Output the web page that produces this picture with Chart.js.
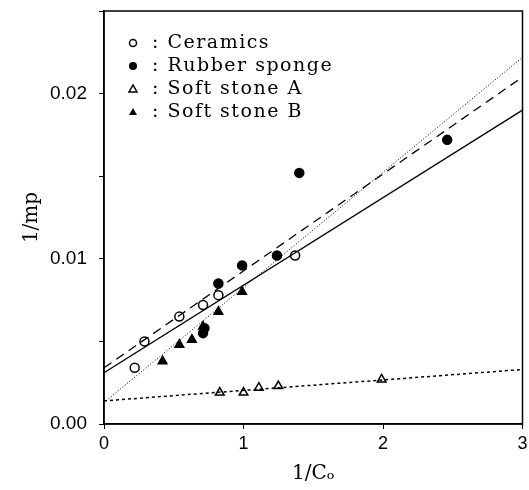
<!DOCTYPE html>
<html>
<head>
<meta charset="utf-8">
<script src="https://cdn.jsdelivr.net/npm/chart.js"></script>
<style>
  html, body { margin: 0; padding: 0; background: #fff; }
  #wrap { width: 529px; height: 490px; }
</style>
</head>
<body>
<div id="wrap"><canvas id="plot"></canvas></div>
<script>
    // measured points (1/Co, 1/mp)
    const ceramicsX = [0.22, 0.29, 0.54, 0.71, 0.82, 1.37];
    const ceramicsY = [0.0034, 0.0050, 0.0065, 0.0072, 0.0078, 0.0102];
    const rubberX = [0.71, 0.72, 0.82, 0.99, 1.24, 1.40, 2.46];
    const rubberY = [0.0055, 0.0058, 0.0085, 0.0096, 0.0102, 0.0152, 0.0172];
    const stoneAX = [0.83, 1.00, 1.11, 1.25, 1.99];
    const stoneAY = [0.0019, 0.0019, 0.0022, 0.0023, 0.0027];
    const stoneBX = [0.42, 0.54, 0.63, 0.71, 0.82, 0.99];
    const stoneBY = [0.0038, 0.0048, 0.0051, 0.0059, 0.0068, 0.0080];

    // fitted lines, end points
    const fitX = [0, 3];
    const ceramicsFit = [0.0031, 0.0190];
    const rubberFit = [0.0034, 0.0210];
    const stoneAFit = [0.0014, 0.0033];
    const stoneBFit = [0.0013, 0.0222];

    const xTicks = [0, 1, 2, 3];
    const yTickLabels = ['0.00', '0.01', '0.02'];

    const legendItems = [
        { text: ': Ceramics', style: 'circle', fill: false },
        { text: ': Rubber sponge', style: 'circle', fill: true },
        { text: ': Soft stone A', style: 'triangle', fill: false },
        { text: ': Soft stone B', style: 'triangle', fill: true }
    ];

    function pts(xs, ys) {
        return xs.map((x, i) => ({ x: x, y: ys[i] }));
    }

    function pointSet(label, xs, ys, style, filled) {
        return {
            type: 'scatter', label: label, data: pts(xs, ys),
            pointStyle: style, pointRadius: style === 'triangle' ? 5 : 4.5,
            borderColor: '#000', borderWidth: 1.5,
            backgroundColor: filled ? '#000' : '#fff'
        };
    }

    function fitSet(ys, dash, width) {
        return {
            type: 'line', data: pts(fitX, ys), showLine: true,
            borderColor: '#000', borderWidth: width, borderDash: dash,
            pointRadius: 0, fill: false
        };
    }

    const frame = {
        id: 'frame',
        afterDatasetsDraw(chart) {
            const a = chart.chartArea, c = chart.ctx;
            c.save();
            c.strokeStyle = '#000';
            c.lineWidth = 1.5;
            c.strokeRect(a.left, a.top, a.right - a.left, a.bottom - a.top);
            // legend inside the plot
            c.font = '19px "DejaVu Serif"';
            c.letterSpacing = '1.5px';
            c.textBaseline = 'middle';
            c.fillStyle = '#000';
            legendItems.forEach((item, i) => {
                const y = a.top + 32 + i * 23;
                const x = a.left + 29;
                c.beginPath();
                c.lineWidth = 1.5;
                if (item.style === 'circle') {
                    c.arc(x, y, item.fill ? 4 : 3.5, 0, Math.PI * 2);
                } else {
                    c.moveTo(x, y - 4);
                    c.lineTo(x + 4, y + 3);
                    c.lineTo(x - 4, y + 3);
                    c.closePath();
                }
                if (item.fill) c.fill(); else c.stroke();
                c.fillText(item.text, a.left + 48, y);
            });
            c.restore();
        }
    };

    new Chart(document.getElementById('plot'), {
        type: 'scatter',
        data: {
            datasets: [
                fitSet(ceramicsFit, [], 1.3),
                fitSet(rubberFit, [9, 6], 1.3),
                fitSet(stoneBFit, [1, 2], 1),
                fitSet(stoneAFit, [3, 3], 1.5),
                pointSet('Ceramics', ceramicsX, ceramicsY, 'circle', false),
                pointSet('Rubber sponge', rubberX, rubberY, 'circle', true),
                pointSet('Soft stone A', stoneAX, stoneAY, 'triangle', false),
                pointSet('Soft stone B', stoneBX, stoneBY, 'triangle', true)
            ]
        },
        options: {
            responsive: true,
            maintainAspectRatio: false,
            animation: false,
            layout: { padding: { top: 11, right: 6, left: 16, bottom: 0 } },
            plugins: { legend: { display: false }, tooltip: { enabled: false } },
            scales: {
                x: {
                    type: 'linear', min: 0, max: 3,
                    afterBuildTicks: s => { s.ticks = xTicks.map(v => ({ value: v })); },
                    ticks: { color: '#000', font: { family: 'Liberation Sans', size: 18 }, padding: 4 },
                    grid: { drawOnChartArea: false, color: '#000', tickLength: 5 },
                    border: { color: '#000', width: 1.5 },
                    title: { display: true, text: '1/Cₒ', color: '#000',
                             font: { family: 'DejaVu Serif', size: 20 }, padding: { top: 2 } },
                    afterFit: s => { s.height = 66; s.paddingLeft = 0; s.paddingRight = 0; }
                },
                y: {
                    type: 'linear', min: 0, max: 0.025,
                    ticks: {
                        stepSize: 0.005, color: '#000', padding: 12,
                        font: { family: 'Liberation Sans', size: 19 },
                        callback: v => {
                            const k = Math.round(v * 100);
                            return Math.abs(v * 100 - k) < 1e-6 && k < yTickLabels.length ? yTickLabels[k] : '';
                        }
                    },
                    grid: { drawOnChartArea: false, color: '#000', tickLength: 5 },
                    border: { color: '#000', width: 1.5 },
                    title: { display: true, text: '1/mp', color: '#000',
                             font: { family: 'DejaVu Serif', size: 20 } },
                    afterFit: s => { s.width = 88; s.paddingTop = 0; s.paddingBottom = 0; }
                }
            }
        },
        plugins: [frame]
    });
</script>
</body>
</html>
